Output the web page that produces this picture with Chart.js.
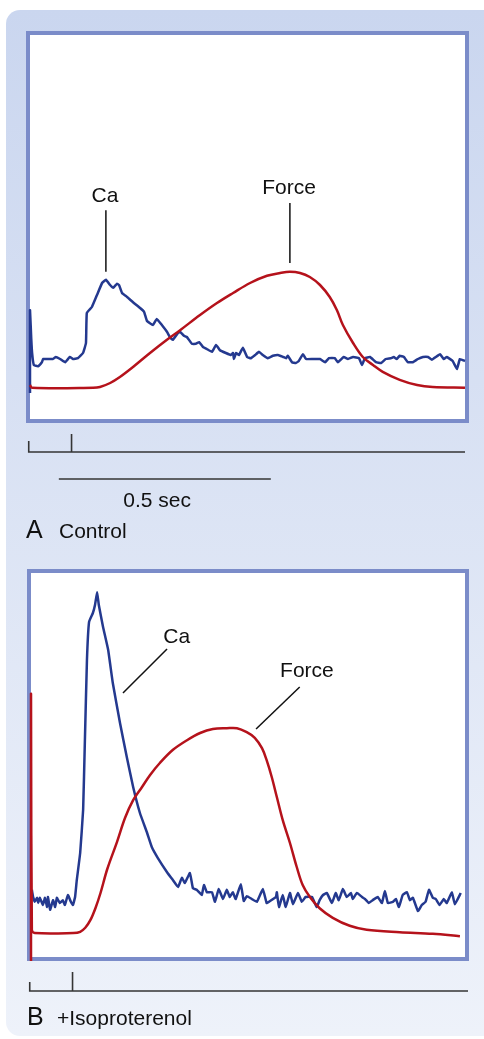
<!DOCTYPE html>
<html>
<head>
<meta charset="utf-8">
<script src="https://cdn.jsdelivr.net/npm/chart.js@4.4.0/dist/chart.umd.min.js"></script>
<style>
  html, body { margin: 0; padding: 0; background: #fff; }
  body { width: 484px; height: 1039px; position: relative; overflow: hidden; }
  #bg { position: absolute; left: 0; top: 0; }
  .box { position: absolute; left: 0; width: 484px; }
  #boxA { top: 0; height: 550px; }
  #boxB { top: 550px; height: 489px; }
</style>
</head>
<body>
<canvas id="bg" width="484" height="1039"></canvas>
<div class="box" id="boxA"><canvas id="chartA"></canvas></div>
<div class="box" id="boxB"><canvas id="chartB"></canvas></div>
<script>
// time in ms, signal in arbitrary units (0-96)
const timeCaA = [0,0,3,5,9,19,28,31,54,61, 71,83,94,101,113,125,132,134,146,158,
  170,179,189,196,205,210,217,229,243,259, 269,276,290,299,311,323,330,337,349,354,
  363,370,382,391,399,408,417,429,439,448, 462,474,479,481,486,493,502,512,521,531,
  540,549,561,573,585,597,604,608,618,627, 634,644,651,667,684,696,705,719,726,740,
  750,762,776,783,790,802,816,828,839,851, 858,865,872,882,891,903,915,927,939,948,
  957,967,976,983,997,1007,1014,1026];
const caA = [6.5,27.2,20,16.5,13.5,13.2,14.2,15,15,15.5, 15,14.2,15.5,15,15.2,16.5,19,26.5,28,31,
  34,34.8,33.5,32.8,33.8,33.5,31.5,30.5,29.2,27.8, 26.8,24.5,23.5,25,23.5,21.8,20.5,19.8,21.5,21.8,
  20.8,20.5,18.8,18.8,19.2,18,17.5,16.8,18.5,17.2, 16.5,16,16.5,15,16.5,16,17.8,15.5,15.2,16,
  16.8,16,15.2,15.8,16,15.5,15.2,15.8,14.2,14, 14.5,16.2,15,15,15,14.2,15.2,15.2,14.2,15.5,
  15,15.5,15.2,13.5,15.2,15.5,14.2,14,15,15.2, 15.5,15,15.8,15.5,14.2,14.2,15,15.5,15.5,14.8,
  15.5,16.2,15,15.5,14.5,12.5,15,14.5];

const timeForceA = [0,5,149,165,189,212,243,283,323,354, 401,441,479,519,559,590,613,637,660,684,
  707,724,738,762,785,809,832,872,913,950, 1026];
const forceA = [8.5,7.8,7.8,8,9,10.5,13,16.5,19.8,22.2, 26,29,31.5,34,35.8,36.5,36.8,36.5,35.5,33.5,
  30.5,27.2,23.5,19,15.5,13.5,11.8,9.8,8.5,8, 7.8];

const timeCaB = [2,5,9,14,17,21,28,33,38,40, 45,52,57,61,68,75,80,87,94,99,
  104,108,116,123,127,132,137,146,151,156, 160,170,182,193,210,226,241,257,274,285,
  299,321,335,347,356,363,375,382,391,403, 408,415,427,434,443,453,462,469,476,483,
  495,502,509,521,533,547,556,564,578,580, 585,594,601,611,618,630,639,648,663,674,
  681,689,698,710,719,726,736,745,755,759, 769,781,788,797,806,818,828,835,842,854,
  861,868,877,887,894,901,913,922,931,939, 948,955,964,974,981,993,1000,1014];
const caB = [16.8,15,13.8,14.8,13.5,14.8,13,14.8,12.5,15, 11.8,14.2,12.5,14.8,13.5,14.2,13,15.5,13.8,13,
  15,19.2,26,36.8,53.5,74.2,83.8,86,88,91.2, 88,82.5,76.8,68.5,58.5,50,42.5,36,31,27.5,
  24.8,21.2,19.2,17.5,19.8,18.5,21,17.2,16.8,15.5, 18,16.2,16.2,13.8,17,14.5,16.8,15,16.2,14.5,
  18.2,14,15.2,14.5,13.8,17,13.5,14,15,16.2, 12.5,15.5,12.5,16,13.2,16,13.8,15,15,12.5,
  14.2,15.5,16,13.5,16,14.2,17,15,16,14.5, 16,15,14.5,13.5,14.2,15,13.5,16.5,13.5,13.8,
  14.5,12.5,15.5,16.2,14.2,14.8,11.5,13,13.8,16.8, 14.8,14.5,13,14.5,13.5,16.2,13.2,16];

const timeForceB = [0,0,2,9,100,116,128,140,152,164, 180,203,222,241,262,281,304,335,368,399,
  429,462,486,509,528,545,556,568,580,594, 611,627,641,658,681,712,752,792,870,948, 1012];
const forceB = [-1,65.8,6.8,6,6,6.3,7.3,9.2,12.2,16, 22,28.8,34.8,39.2,42.5,45.5,48.5,51.8,54.2,56,
  57,57.2,57.2,56.2,54.8,52.2,49.2,45,40,34.2, 28.5,22.5,18,15,12.2,9.8,7.8,6.8,6.2,5.8, 5.2];

const timeMarks = [-3, 98];   // start and stimulus marks (ms)
const scaleBar = [68, 568];   // 0.5 sec
const scaleLabel = '0.5 sec';

const BLUE = '#24398f';
const RED = '#b5121b';
const FONT = '"Liberation Sans", Arial, sans-serif';

// light blue rounded panel behind both charts
(function drawPanel() {
  const c = document.getElementById('bg').getContext('2d');
  const g = c.createLinearGradient(0, 10, 0, 1036);
  g.addColorStop(0, '#cad6ef');
  g.addColorStop(1, '#eef2fa');
  c.fillStyle = g;
  c.beginPath();
  c.roundRect(6, 10, 500, 1026, 14);
  c.fill();
})();

function zip(xs, ys) {
  return xs.map((t, i) => ({ x: t, y: ys[i] }));
}

const tracePlugin = {
  id: 'trace',
  beforeDatasetsDraw(chart) {
    const { ctx, chartArea: a } = chart;
    ctx.save();
    ctx.fillStyle = '#fff';
    ctx.fillRect(a.left, a.top, a.width, a.height);
    ctx.strokeStyle = '#7b8cc9';
    ctx.lineWidth = 4;
    ctx.strokeRect(a.left - 2, a.top - 2, a.width + 4, a.height + 4);
    ctx.restore();
  },
  afterDatasetsDraw(chart, args, opts) {
    const { ctx, chartArea: a } = chart;
    const x = chart.scales.x, y = chart.scales.y;
    ctx.save();
    ctx.font = '21px ' + FONT;
    ctx.fillStyle = '#111';
    ctx.strokeStyle = '#111';
    ctx.lineWidth = 1.5;
    ctx.textAlign = 'center';
    opts.notes.forEach(n => {
      ctx.fillText(n.text, x.getPixelForValue(n.at[0]), y.getPixelForValue(n.at[1]));
      ctx.beginPath();
      ctx.moveTo(x.getPixelForValue(n.from[0]), y.getPixelForValue(n.from[1]));
      ctx.lineTo(x.getPixelForValue(n.to[0]), y.getPixelForValue(n.to[1]));
      ctx.stroke();
    });

    // time axis under the trace
    const base = a.bottom + opts.axisGap;
    const x0 = x.getPixelForValue(timeMarks[0]);
    const x1 = x.getPixelForValue(timeMarks[1]);
    ctx.strokeStyle = '#353535';
    ctx.lineWidth = 1.6;
    ctx.beginPath();
    ctx.moveTo(x0, base - opts.tick0);
    ctx.lineTo(x0, base);
    ctx.lineTo(a.right + opts.axisExtra, base);
    ctx.moveTo(x1, base - opts.tick1);
    ctx.lineTo(x1, base);
    ctx.stroke();

    if (opts.showScale) {
      const sy = a.bottom + 60;
      ctx.beginPath();
      ctx.moveTo(x.getPixelForValue(scaleBar[0]), sy);
      ctx.lineTo(x.getPixelForValue(scaleBar[1]), sy);
      ctx.stroke();
      ctx.fillText(scaleLabel, x.getPixelForValue(300), a.bottom + 88);
    }

    ctx.textAlign = 'left';
    ctx.font = '25px ' + FONT;
    ctx.fillText(opts.letter, a.left - 4, a.bottom + opts.letterGap);
    ctx.font = '21px ' + FONT;
    ctx.fillText(opts.caption, opts.captionX, a.bottom + opts.letterGap);
    ctx.restore();
  }
};

function makeChart(id, caPts, forcePts, xMax, padding, extra) {
  return new Chart(document.getElementById(id), {
    type: 'scatter',
    data: {
      datasets: [
        { label: 'Force', data: forcePts, borderColor: RED, borderWidth: 2.5, showLine: true,
          tension: 0.35, pointRadius: 0, clip: false },
        { label: 'Ca', data: caPts, borderColor: BLUE, borderWidth: 2.5, showLine: true,
          tension: 0.1, pointRadius: 0, clip: false }
      ]
    },
    options: {
      responsive: true,
      maintainAspectRatio: false,
      animation: false,
      layout: { padding: padding },
      scales: {
        x: { type: 'linear', min: 0, max: xMax, display: false },
        y: { min: 0, max: 96, display: false }
      },
      plugins: {
        legend: { display: false },
        tooltip: { enabled: false },
        trace: extra
      }
    },
    plugins: [tracePlugin]
  });
}

makeChart('chartA', zip(timeCaA, caA), zip(timeForceA, forceA), 1026,
  { left: 30, right: 19, top: 35, bottom: 131 },
  {
    notes: [
      { text: 'Ca', at: [177, 54.2], from: [179, 52.2], to: [179, 36.8] },
      { text: 'Force', at: [611, 56.2], from: [613, 54], to: [613, 39] }
    ],
    axisGap: 33, tick0: 11, tick1: 18, axisExtra: 0, showScale: true,
    letter: 'A', caption: 'Control', captionX: 59, letterGap: 119
  });

makeChart('chartB', zip(timeCaB, caB), zip(timeForceB, forceB), 1024,
  { left: 31, right: 19, top: 23, bottom: 82 },
  {
    notes: [
      { text: 'Ca', at: [344, 78.5], from: [321, 77], to: [217, 66] },
      { text: 'Force', at: [651, 70], from: [634, 67.5], to: [531, 57] }
    ],
    axisGap: 34, tick0: 9, tick1: 19, axisExtra: 3, showScale: false,
    letter: 'B', caption: '+Isoproterenol', captionX: 57, letterGap: 68
  });
</script>
</body>
</html>
